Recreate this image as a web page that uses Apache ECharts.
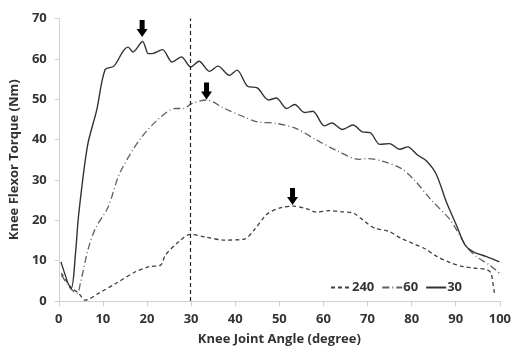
<!DOCTYPE html>
<html><head><meta charset="utf-8">
<script src="https://cdn.jsdelivr.net/npm/echarts@6/dist/echarts.min.js"></script>
<style>html,body{margin:0;padding:0;background:#fff}#c{width:514px;height:356px}</style>
</head><body><div id="c"></div>
<script>
// Knee joint angle (degree) and flexor torque (Nm)
const x30 = [0.5,2.8,3.8,4.5,6.5,8.6,10.5,12.5,14.7,15.7,16.8,19.0,20.3,21.2,23.5,25.7,27.8,29.9,31.8,34.2,36.1,38.7,40.4,42.8,45.0,47.6,49.3,51.7,53.5,55.7,57.6,60.2,61.9,64.3,66.7,68.8,70.6,72.8,75.0,77.3,79.1,81.4,83.2,85.5,88.0,90.3,92.1,94.0,97.0,99.9];
const y30 = [9.7,3.1,11.9,21.3,38.4,47.3,57.3,58.2,62.1,62.9,61.7,64.3,61.3,61.3,62.3,59.2,60.5,58.0,59.4,56.9,58.2,55.9,57.2,53.2,52.8,49.8,50.3,47.7,48.7,46.7,47.0,43.4,44.1,42.5,43.6,41.9,41.7,38.8,39.0,37.6,38.2,36.1,34.9,31.6,24.2,18.4,13.9,12.2,11.0,9.7];

const x60 = [0.6,2.7,4.2,4.9,6.7,8.4,11.2,13.8,18.3,22.7,26.4,28.3,30.1,33.5,37.6,42.0,45.0,49.4,53.9,58.4,63.5,68.0,70.2,73.2,77.7,80.6,84.3,88.8,92.5,94.7,97.7,99.9];
const y60 = [6.4,3.1,1.9,4.4,13.0,18.2,23.3,31.6,39.9,45.2,47.7,47.7,48.9,49.8,47.7,45.6,44.4,44.0,42.7,39.9,37.0,35.1,35.3,34.7,32.8,30.0,25.2,20.0,13.4,11.0,8.9,6.9];

const x240 = [0.6,2.7,4.5,6.0,9.0,13.0,17.5,20.5,23.1,24.2,27.2,29.8,33.1,37.6,42.0,44.3,47.2,50.2,53.2,56.1,58.4,61.3,64.3,66.9,69.5,71.7,74.7,77.7,80.2,82.9,85.8,88.8,91.8,94.7,97.0,98.0,98.8,99.2];
const y240 = [6.9,3.5,1.9,0.2,1.9,4.4,7.3,8.5,8.9,11.4,14.7,16.5,15.9,15.1,15.3,17.6,21.5,23.1,23.5,22.9,22.0,22.4,22.1,21.7,19.6,18.0,17.3,15.5,14.3,13.0,11.0,9.5,8.5,8.1,7.8,6.9,1.9,1.5];

const seriesNames = ['240','60','30'];
const peakMarks = {'240':[53.0,23.8],'60':[33.5,49.9],'30':[18.9,65.4]};
const refAngle = 29.7;

const pair = (xs,ys)=>xs.map((v,i)=>[v,ys[i]]);
const arrowPath = 'path://M3,0 L8,0 L8,9 L11,9 L5.5,17 L0,9 L3,9 Z';
const font = '"Open Sans", "Noto Sans", sans-serif';

function mk(name, data, lineType, color, width){
  return {
    name, type:'line', data, symbol:'none', smooth:0.3,
    lineStyle:{type:lineType, color, width},
    itemStyle:{color},
    markPoint:{
      symbol:arrowPath, symbolSize:[11,17], symbolOffset:[0,'-50%'],
      itemStyle:{color:'#000'}, label:{show:false}, silent:true,
      data:[{coord:peakMarks[name]}]
    }
  };
}

const chart = echarts.init(document.getElementById('c'));
const s240 = mk('240', pair(x240,y240), [4,3], '#404040', 1.3);
s240.markLine = {
  symbol:'none', silent:true, label:{show:false},
  lineStyle:{type:[4,3], color:'#222', width:1.2},
  data:[{xAxis:refAngle}]
};
chart.setOption({
  animation:false,
  backgroundColor:'#fff',
  grid:{left:58, right:7, top:18.5, bottom:55},
  legend:{
    data:seriesNames, left:325, top:276, itemWidth:20, itemHeight:1, itemGap:7,
    itemStyle:{color:'rgba(0,0,0,0)', borderWidth:0},
    textStyle:{fontFamily:font, fontSize:13, fontWeight:'bold', color:'#333', padding:[0,0,0,-4]}
  },
  xAxis:{
    type:'value', min:0, max:100, interval:10,
    name:'Knee Joint Angle (degree)', nameLocation:'middle', nameGap:32,
    nameTextStyle:{fontFamily:font, fontSize:13, fontWeight:'bold', color:'#333'},
    axisLine:{lineStyle:{color:'#d0d0d0'}},
    axisTick:{show:true, length:5, lineStyle:{color:'#d0d0d0'}},
    axisLabel:{fontFamily:font, fontSize:13, fontWeight:'bold', color:'#333', margin:12},
    splitLine:{show:false}
  },
  yAxis:{
    type:'value', min:0, max:70, interval:10,
    name:'Knee Flexor Torque (Nm)', nameLocation:'middle', nameGap:36,
    nameTextStyle:{fontFamily:font, fontSize:13, fontWeight:'bold', color:'#333'},
    axisLine:{show:true, lineStyle:{color:'#d0d0d0'}},
    axisTick:{show:true, length:4, lineStyle:{color:'#d0d0d0'}},
    axisLabel:{fontFamily:font, fontSize:13, fontWeight:'bold', color:'#333', margin:12},
    splitLine:{show:false}
  },
  series:[
    s240,
    mk('60', pair(x60,y60), [7,3,1,3], '#606060', 1.3),
    mk('30', pair(x30,y30), 'solid', '#333', 1.4)
  ]
});
</script></body></html>
